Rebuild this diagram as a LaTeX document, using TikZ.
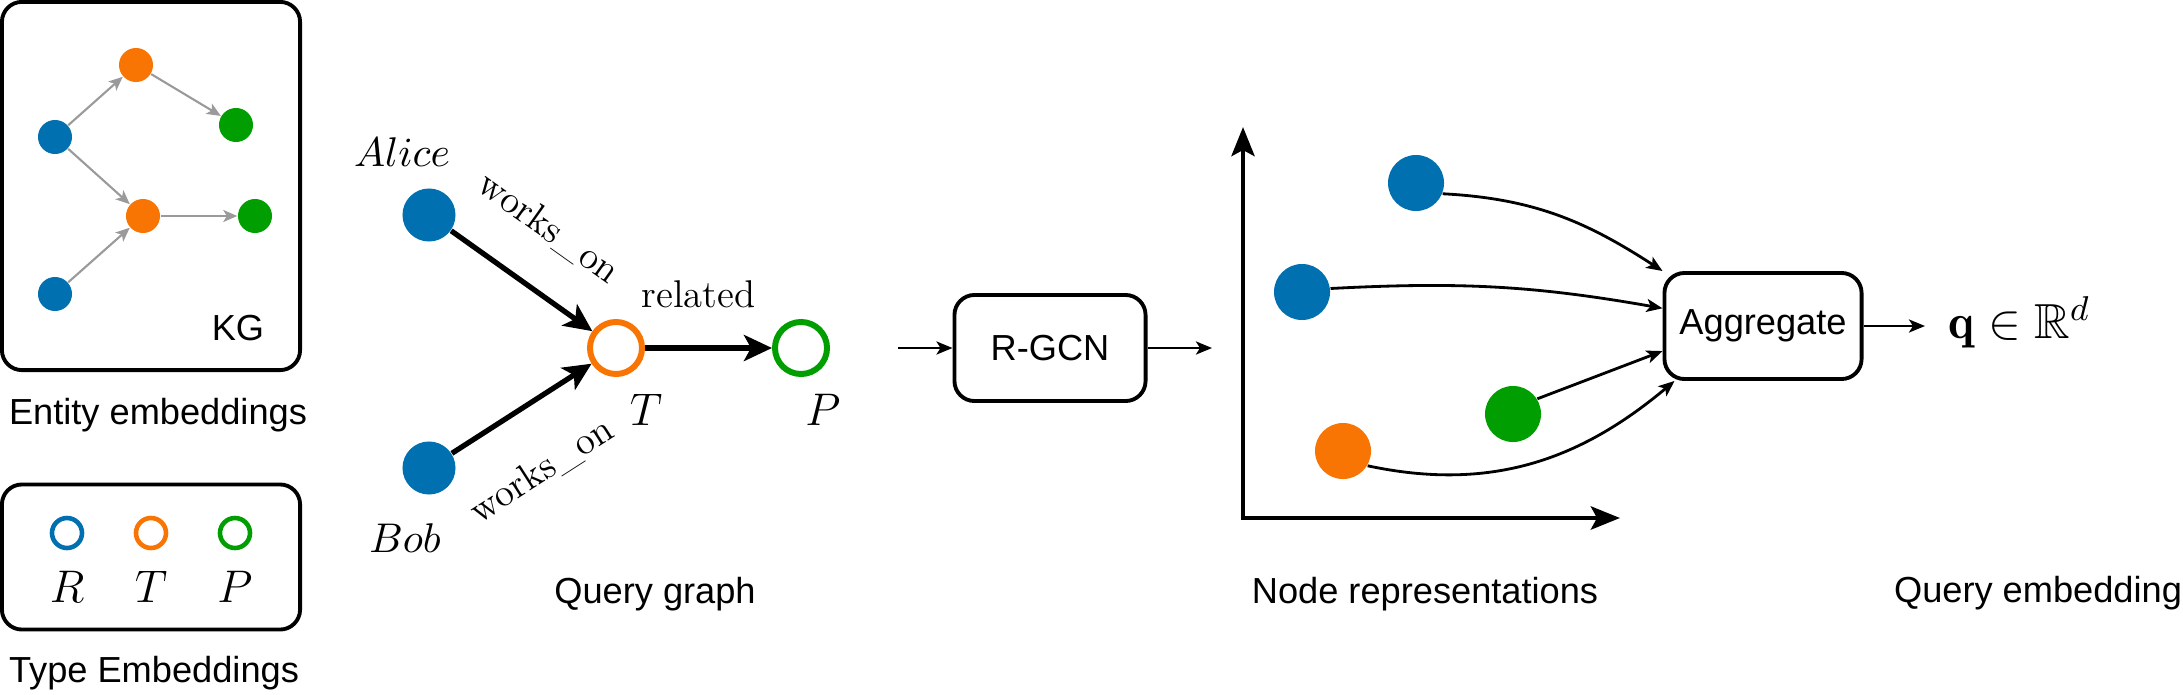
\RequirePackage{fix-cm}
\documentclass[tikz,border=0pt]{standalone}
\usepackage{fontspec}
\setsansfont{Liberation Sans}
\usepackage{amssymb}
\usetikzlibrary{arrows.meta,positioning,calc}
\definecolor{entblue}{HTML}{0070B0}
\definecolor{entorange}{HTML}{F87504}
\definecolor{entgreen}{HTML}{009E00}
\definecolor{kggray}{HTML}{9A9A9A}

\begin{document}
\begin{tikzpicture}[x=0.01cm,y=-0.01cm,
  dot/.style={circle,fill=#1,inner sep=0pt,minimum size=0.34cm},
  bigdot/.style={circle,fill=#1,inner sep=0pt,minimum size=0.53cm},
  ring/.style={circle,draw=#1,line width=1.7pt,inner sep=0pt,minimum size=0.52cm},
  smallring/.style={circle,draw=#1,line width=1.3pt,inner sep=0pt,minimum size=0.30cm},
  frame/.style={draw,line width=1.1pt,rounded corners=0.2cm,inner sep=0pt},
  block/.style={frame,font=\fontsize{10.3}{12}\sffamily\selectfont,minimum height=1.06cm},
  caption/.style={font=\fontsize{10.3}{12}\sffamily\selectfont},
  mathlbl/.style={font=\fontsize{13}{15}\selectfont},
  rel/.style={font=\fontsize{11}{13}\selectfont,sloped},
  kgedge/.style={kggray,line width=0.6pt,-{Stealth[length=1.4mm,width=1.2mm,inset=0.35mm]}},
  qedge/.style={line width=1.5pt,-{Stealth[length=2.8mm,width=2.6mm,inset=0.7mm]}},
  flow/.style={line width=0.8pt,-{Stealth[length=1.6mm,width=1.3mm,inset=0.4mm]}},
  axis/.style={line width=1.4pt,line join=miter,{Stealth[length=2.9mm,width=2.3mm,inset=0.6mm]}-{Stealth[length=2.9mm,width=2.3mm,inset=0.6mm]}}
]
\useasboundingbox (0,0) rectangle (2183,694);

% knowledge graph
\node[frame,minimum width=2.98cm,minimum height=3.68cm] (kg) at (151,186) {};
\node[dot=entblue] (kb1) at (55,137) {};
\node[dot=entblue] (kb2) at (55,294) {};
\node[dot=entorange] (ko1) at (136,65) {};
\node[dot=entorange] (ko2) at (143,216) {};
\node[dot=entgreen] (kg1) at (236,125) {};
\node[dot=entgreen] (kg2) at (255,216) {};
\draw[kgedge] (kb1) -- (ko1);
\draw[kgedge] (ko1) -- (kg1);
\draw[kgedge] (kb1) -- (ko2);
\draw[kgedge] (kb2) -- (ko2);
\draw[kgedge] (ko2) -- (kg2);
\node[caption] at (238,328) {KG};
\node[caption] at (158,415) {Entity embeddings};

% type embeddings
\node[frame,minimum width=2.98cm,minimum height=1.45cm] (types) at (151,557) {};
\node[smallring=entblue] (tr) at (67,533) {};
\node[smallring=entorange] (tt) at (151,533) {};
\node[smallring=entgreen] (tp) at (235,533) {};
\node[mathlbl] at (67,587) {$R$};
\node[mathlbl] at (151,587) {$T$};
\node[mathlbl] at (235,587) {$P$};
\node[caption] at (154,673) {Type Embeddings};

% query graph
\node[bigdot=entblue] (alice) at (429,215) {};
\node[bigdot=entblue] (bob) at (429,468) {};
\node[ring=entorange] (qt) at (616,348) {};
\node[ring=entgreen] (qp) at (801,348) {};
\node[font=\fontsize{11.8}{14}\selectfont] at (402,152) {$Alice$};
\node[font=\fontsize{11.8}{14}\selectfont] at (405,538) {$Bob$};
\node[mathlbl] at (646,410) {$T$};
\node[mathlbl] at (823,410) {$P$};
\draw[qedge] (alice) -- node[rel,above=0.28cm,pos=0.45] {works\_on} (qt);
\draw[qedge] (bob) -- node[rel,below=0.33cm,pos=0.4] {works\_on} (qt);
\draw[qedge] (qt) -- node[rel,above=0.26cm,pos=0.42] {related} (qp);
\node[caption] at (655,594) {Query graph};

% R-GCN
\node[block,minimum width=1.91cm] (rgcn) at (1050,348) {R-GCN};
\coordinate (rin) at (898,348);
\coordinate (rout) at (1212,348);
\draw[flow] (rin) -- (rgcn);
\draw[flow] (rgcn) -- (rout);

% node representations
\coordinate (origin) at (1243,518);
\coordinate (ytip) at (1243,127);
\coordinate (xtip) at (1620,518);
\draw[axis] (ytip) -- (origin) -- (xtip);
\node[bigdot=entblue,minimum size=0.56cm] (n1) at (1416,183) {};
\node[bigdot=entblue,minimum size=0.56cm] (n2) at (1302,292) {};
\node[bigdot=entgreen,minimum size=0.56cm] (n3) at (1513,414) {};
\node[bigdot=entorange,minimum size=0.56cm] (n4) at (1343,451) {};
\node[caption] at (1425,594) {Node representations};

% aggregation
\node[block,minimum width=1.97cm] (agg) at (1763,326) {Aggregate};
\draw[flow] (n1.-22) to[out=-3,in=147] (agg.north west);
\draw[flow] (n2.7) to[out=3,in=170] (agg.170);
\draw[flow] (n3.32) -- (agg.194);
\draw[flow] (n4.-31) to[out=-12,in=220] ($(agg.south west)+(12,0)$);
\node[font=\fontsize{14}{16}\selectfont,anchor=west] (qemb) at (1936,322) {$\mathbf{q}\in\mathbb{R}^d$};
\draw[flow,shorten >=0.11cm] (agg.east) -- (agg.east -| qemb.west);
\node[caption] at (2038,593) {Query embedding};
\end{tikzpicture}
\end{document}
